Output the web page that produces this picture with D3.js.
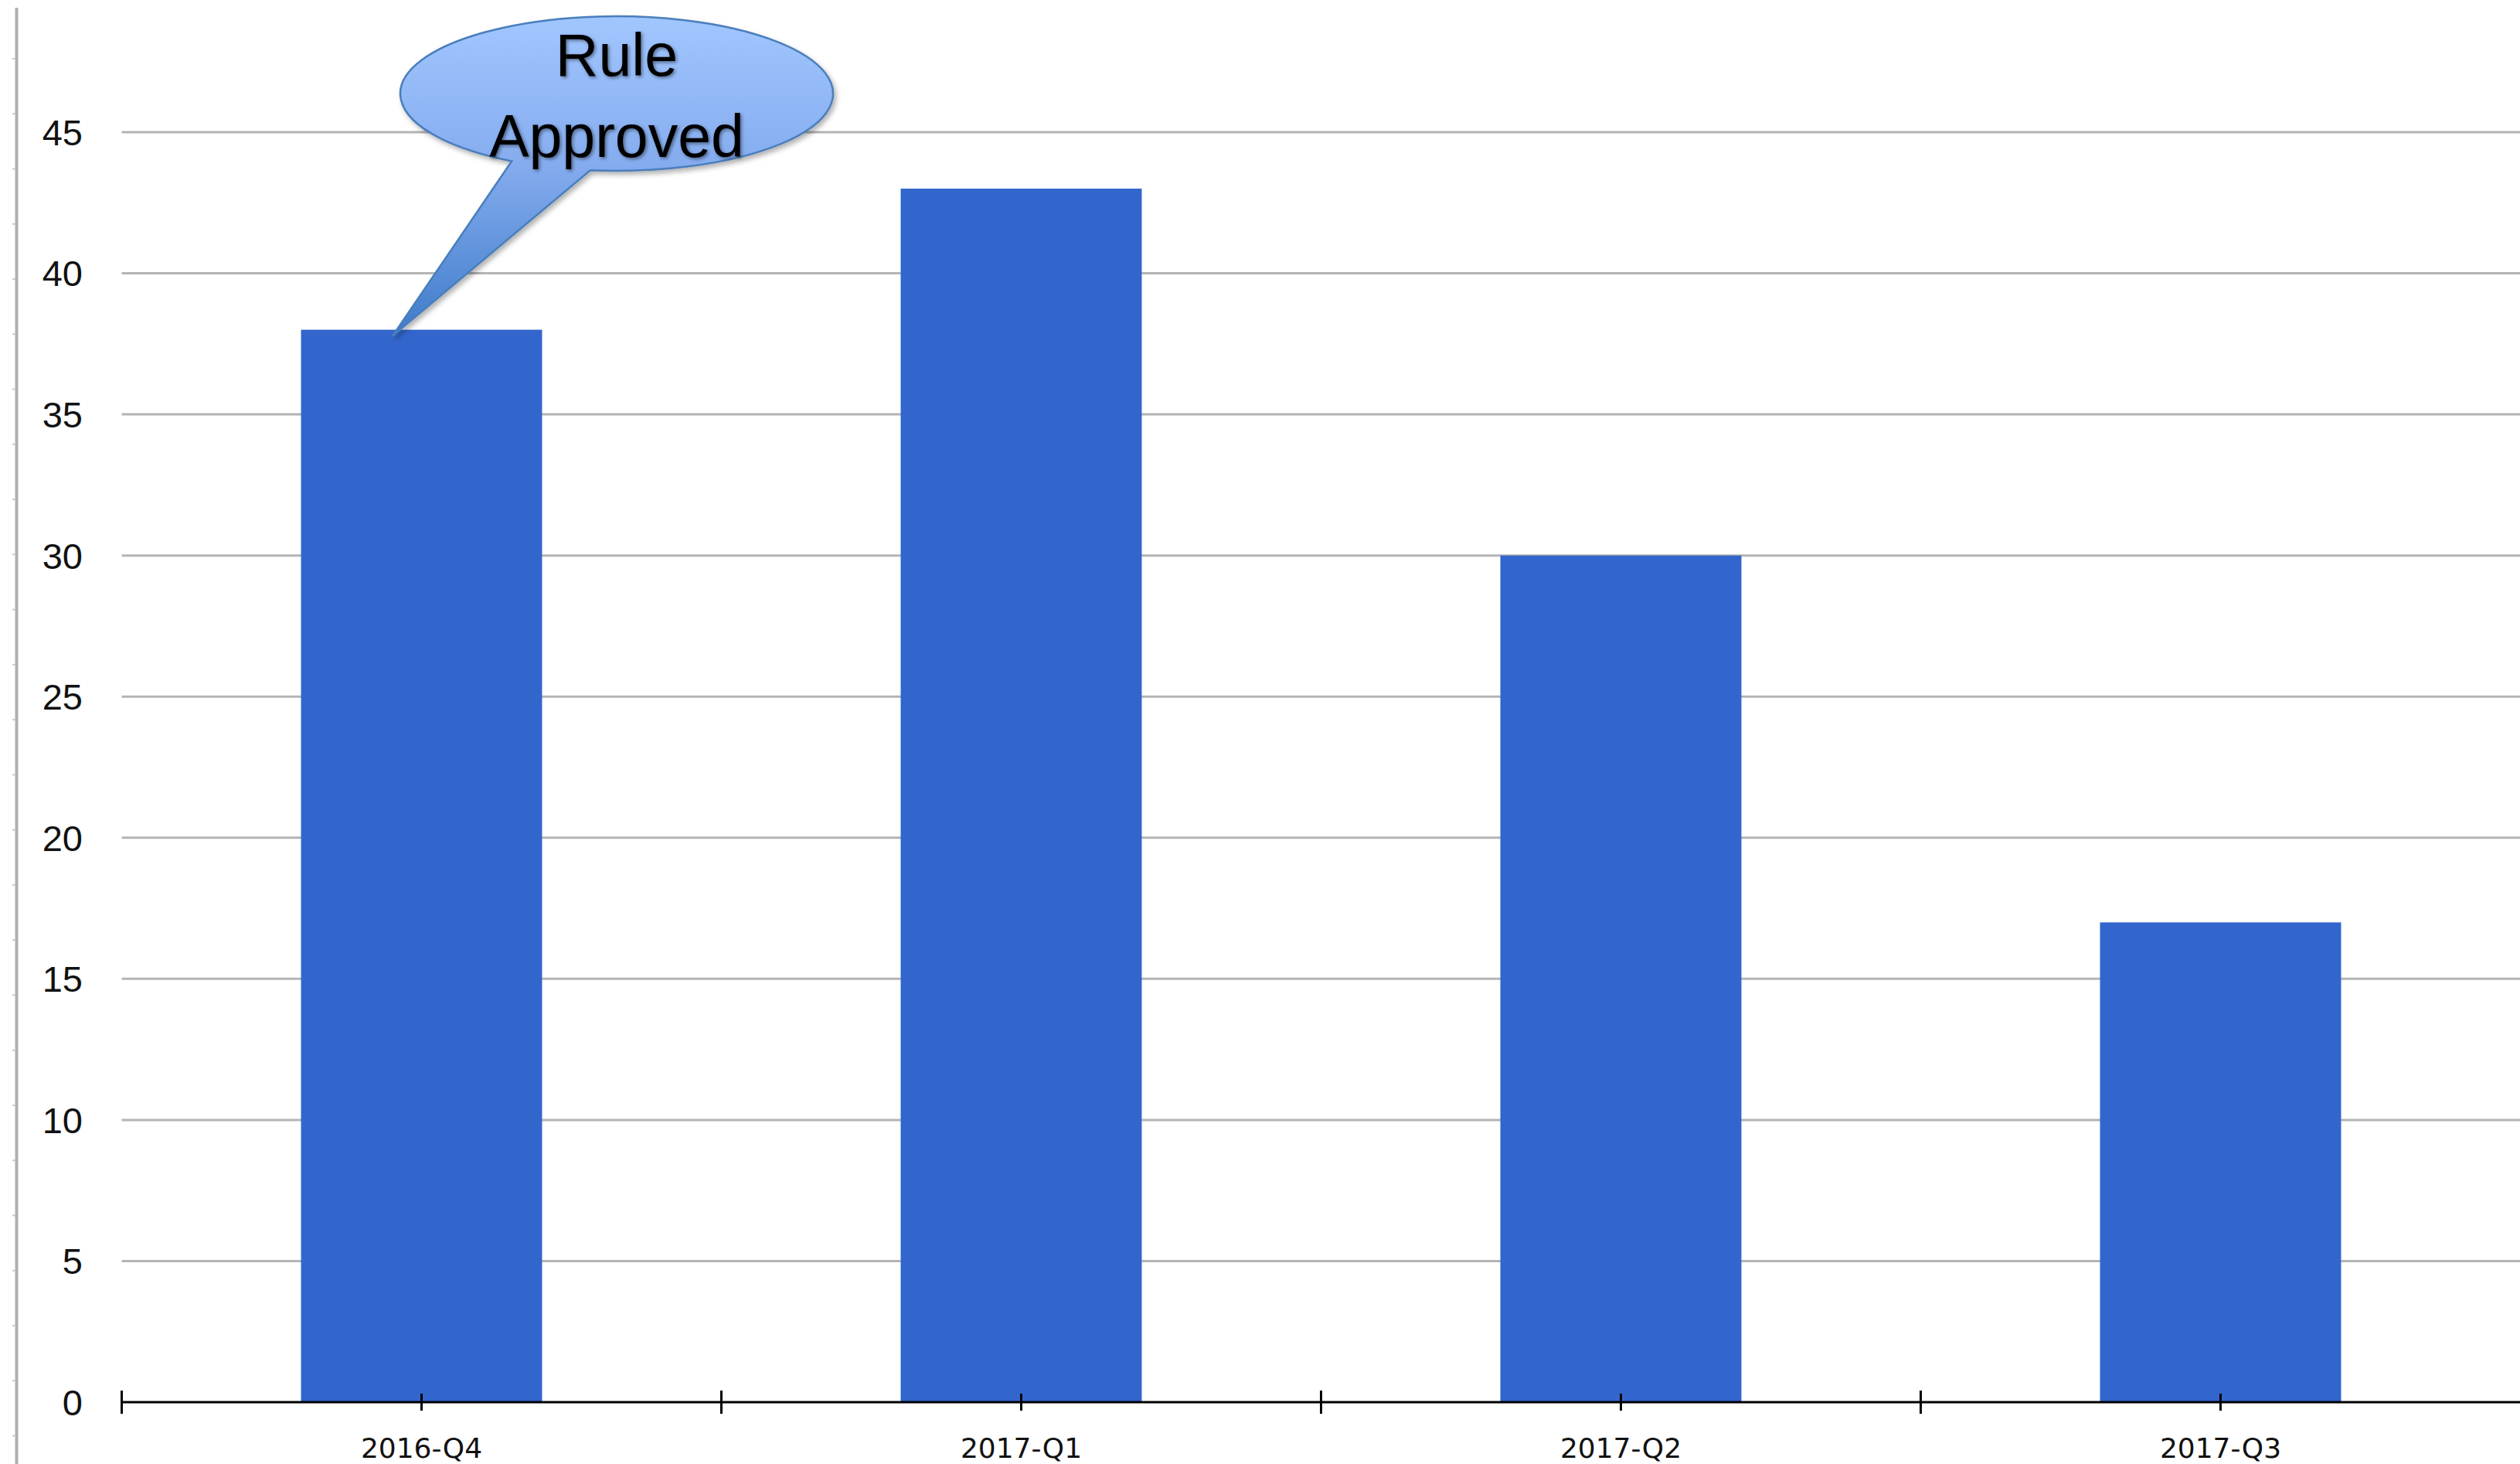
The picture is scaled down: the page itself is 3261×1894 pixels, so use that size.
<!DOCTYPE html>
<html>
<head>
<meta charset="utf-8">
<script src="https://cdn.jsdelivr.net/npm/d3@7"></script>
<style>
  html, body { margin: 0; padding: 0; background: #ffffff; }
  svg { display: block; }
</style>
</head>
<body>
<div id="chart"></div>
<script>
// ---- data ----
const categories = ["2016-Q4", "2017-Q1", "2017-Q2", "2017-Q3"];
const values = [38, 43, 30, 17];
const yTicks = [0, 5, 10, 15, 20, 25, 30, 35, 40, 45];
const calloutCategory = "2016-Q4";
const calloutLines = ["Rule", "Approved"];

// ---- layout ----
const W = 3261, H = 1894;
const plotLeft = 157.5, plotRight = 3261.5;
const yBottom = 1814, yTop = 171;

const svg = d3.select("#chart").append("svg")
  .attr("width", W).attr("height", H)
  .attr("viewBox", `0 0 ${W} ${H}`);

svg.append("rect").attr("width", W).attr("height", H).attr("fill", "#ffffff");

const defs = svg.append("defs");
const grad = defs.append("linearGradient")
  .attr("id", "calloutGrad")
  .attr("gradientUnits", "userSpaceOnUse")
  .attr("x1", 0).attr("x2", 0).attr("y1", 21).attr("y2", 436);
grad.append("stop").attr("offset", "0%").attr("stop-color", "#a1c6ff");
grad.append("stop").attr("offset", "45%").attr("stop-color", "#86adef");
grad.append("stop").attr("offset", "100%").attr("stop-color", "#3e7bc9");

const shadow = defs.append("filter").attr("id", "shapeShadow")
  .attr("x", "-20%").attr("y", "-20%").attr("width", "140%").attr("height", "140%");
shadow.append("feDropShadow").attr("dx", 3).attr("dy", 4).attr("stdDeviation", 3)
  .attr("flood-color", "#000").attr("flood-opacity", 0.3);

const txtShadow = defs.append("filter").attr("id", "textShadow")
  .attr("x", "-20%").attr("y", "-20%").attr("width", "140%").attr("height", "140%");
txtShadow.append("feDropShadow").attr("dx", 2).attr("dy", 2).attr("stdDeviation", 2)
  .attr("flood-color", "#000").attr("flood-opacity", 0.45);

// ---- scales ----
const x = d3.scaleBand()
  .domain(categories)
  .range([plotLeft, plotRight])
  .paddingInner(0.598)
  .paddingOuter(0.299);

const y = d3.scaleLinear()
  .domain([0, 45])
  .range([yBottom, yTop]);

// ---- left ruler line (decorative frame edge) ----
const ruler = d3.scaleLinear().domain([0, 26]).range([76, 76 + 26 * 71.26]);
svg.append("line")
  .attr("x1", 21.5).attr("x2", 21.5).attr("y1", 10).attr("y2", H)
  .attr("stroke", "#b0b0b0").attr("stroke-width", 4);
svg.append("g").selectAll("line")
  .data(d3.range(0, 26))
  .join("line")
  .attr("x1", 16).attr("x2", 20)
  .attr("y1", d => ruler(d)).attr("y2", d => ruler(d))
  .attr("stroke", "#c8c8c8").attr("stroke-width", 2);

// ---- gridlines ----
svg.append("g").selectAll("line")
  .data(yTicks.filter(d => d > 0))
  .join("line")
  .attr("x1", plotLeft).attr("x2", W)
  .attr("y1", d => y(d)).attr("y2", d => y(d))
  .attr("stroke", "#b4b4b4").attr("stroke-width", 3);

// ---- y labels ----
svg.append("g").selectAll("text")
  .data(yTicks)
  .join("text")
  .attr("x", 107)
  .attr("y", d => y(d))
  .attr("dy", "0.36em")
  .attr("text-anchor", "end")
  .attr("font-family", "'Liberation Sans', Arial, sans-serif")
  .attr("font-size", 47)
  .attr("fill", "#111")
  .text(d => d);

// ---- bars ----
svg.append("g").selectAll("rect")
  .data(categories.map((c, i) => ({ c, v: values[i] })))
  .join("rect")
  .attr("x", d => x(d.c))
  .attr("y", d => y(d.v))
  .attr("width", x.bandwidth())
  .attr("height", d => y(0) - y(d.v))
  .attr("fill", "#3366cc");

// ---- x axis ----
const xAxisG = svg.append("g");
xAxisG.append("line")
  .attr("x1", plotLeft).attr("x2", W)
  .attr("y1", y(0)).attr("y2", y(0))
  .attr("stroke", "#000").attr("stroke-width", 3);

const step = x.step();
const boundaries = categories.map(c => x(c) - step * x.paddingInner() / 2);
xAxisG.selectAll(".bt")
  .data(boundaries)
  .join("line").attr("class", "bt")
  .attr("x1", d => d).attr("x2", d => d)
  .attr("y1", y(0) - 15).attr("y2", y(0) + 15)
  .attr("stroke", "#000").attr("stroke-width", 3);

xAxisG.selectAll(".ct")
  .data(categories)
  .join("line").attr("class", "ct")
  .attr("x1", d => x(d) + x.bandwidth() / 2).attr("x2", d => x(d) + x.bandwidth() / 2)
  .attr("y1", y(0) - 11).attr("y2", y(0) + 11)
  .attr("stroke", "#000").attr("stroke-width", 3);

xAxisG.selectAll("text")
  .data(categories)
  .join("text")
  .attr("x", d => x(d) + x.bandwidth() / 2)
  .attr("y", y(0) + 72)
  .attr("text-anchor", "middle")
  .attr("font-family", "'DejaVu Sans', sans-serif")
  .attr("font-size", 36)
  .attr("fill", "#111")
  .text(d => d);

// ---- callout ----
const ci = categories.indexOf(calloutCategory);
const tipX = x(calloutCategory) + x.bandwidth() * 0.38;
const tipY = y(values[ci]) + 8;
const cx = 798, cy = 121, rx = 280, ry = 100;
const aL = 119 * Math.PI / 180, aR = 97 * Math.PI / 180;
const pL = [cx + rx * Math.cos(aL), cy + ry * Math.sin(aL)];
const pR = [cx + rx * Math.cos(aR), cy + ry * Math.sin(aR)];

const path = d3.path();
path.moveTo(pL[0], pL[1]);
// large clockwise arc over the top from left base to right base
svg.append("path")
  .attr("d", `M${pL[0]},${pL[1]} A${rx},${ry} 0 1 1 ${pR[0]},${pR[1]} L${tipX},${tipY} Z`)
  .attr("fill", "url(#calloutGrad)")
  .attr("stroke", "#4a7ebb")
  .attr("stroke-width", 2.5)
  .attr("stroke-linejoin", "miter")
  .attr("filter", "url(#shapeShadow)");

svg.append("g").selectAll("text")
  .data(calloutLines)
  .join("text")
  .attr("x", cx)
  .attr("y", (d, i) => 98 + i * 105)
  .attr("text-anchor", "middle")
  .attr("font-family", "'Liberation Sans', Arial, sans-serif")
  .attr("font-size", 77)
  .attr("fill", "#000")
  .attr("filter", "url(#textShadow)")
  .text(d => d);
</script>
</body>
</html>
